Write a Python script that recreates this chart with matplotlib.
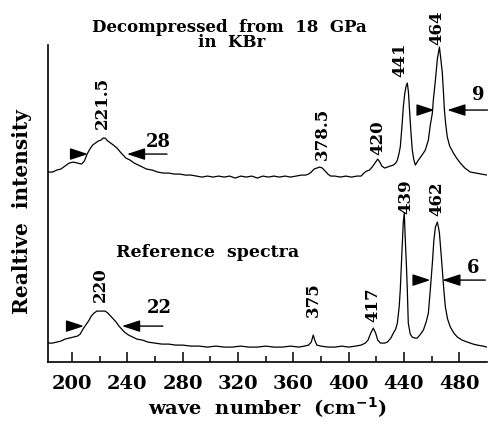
"""
Raman spectra - decompressed from 18 GPa in KBr vs reference.
Values read off the scanned figure.
"""

import matplotlib
matplotlib.use('Agg')
import matplotlib.pyplot as plt

# ── Data ──────────────────────────────────────────────────────
wave_top = [182.6, 186, 189, 192, 195, 198, 201, 204, 207, 209, 211, 213, 215,
            217, 219, 221, 222.5, 224, 226, 228, 230, 232.6, 235, 237, 239, 242,
            245, 248, 251, 254, 258, 262, 266, 270, 274, 278, 282, 286, 290, 294,
            298, 302, 306, 310, 314, 318, 322, 326, 330, 334, 338, 342, 346, 350,
            354, 358, 362, 366, 369, 371, 373, 375, 377, 379, 381, 383, 385, 387,
            390, 394, 398, 402, 406, 409, 411, 413, 415, 417, 419, 421, 422.5,
            424, 426, 428, 430, 432.3, 434, 435.2, 436.3, 437.3, 438.5, 439.5,
            440.5, 441.5, 442.4, 443.2, 444, 445, 446, 447, 448.2, 450.4, 452,
            454, 455.4, 457.6, 459, 460.5, 461.2, 462.7, 464.1, 465.6, 466.7,
            467.7, 468.5, 469.2, 470.2, 471.3, 473, 475.7, 478, 480.7, 484, 488,
            492, 496, 500]
int_top = [190, 190, 192, 193, 196, 199, 200, 199, 198, 201, 208, 213, 217,
           219, 221, 222, 224, 224, 221, 219, 217, 214, 210, 207, 204, 202,
           199, 197, 195, 193, 192, 190, 189, 189, 188, 188, 187, 187, 186, 185,
           186, 185, 186, 185, 186, 184, 186, 185, 186, 184, 186, 185, 186, 185,
           186, 185, 186, 187, 187, 188, 190, 193, 194, 195, 194, 191, 188, 186,
           186, 185, 186, 185, 186, 186, 189, 191, 192, 195, 199, 203, 200,
           196, 194, 195, 196, 197, 199, 202, 208, 215, 235, 255,
           268, 276, 279, 270, 252, 230, 212, 203, 197, 202, 205,
           209, 212, 222, 237, 249, 262, 282, 303, 315, 302,
           289, 270, 252, 237, 225, 216, 209, 204, 199, 194, 190,
           189, 188, 187]

wave_ref = [182.6, 186, 189, 192, 195, 198, 201, 204, 206, 208, 210, 212, 214,
            216, 218, 220, 222, 224, 226, 228, 230, 232, 234, 236, 238, 241, 244,
            247, 251, 255, 260, 265, 270, 275, 280, 286, 292, 298, 304, 310, 316,
            322, 328, 334, 340, 346, 352, 358, 364, 368, 371, 373, 374.4, 375.5,
            377, 380, 385, 390, 395, 400, 405, 409, 412, 414, 416, 417.8, 419.5,
            421, 423, 426, 428, 430.5, 432.3, 434, 435.2, 436.5, 437.3, 438.5,
            439.5, 440.2, 441, 441.8, 442.4, 443.1, 444.5, 446, 448, 449.6, 452,
            454, 456, 457.6, 459, 460.5, 461.6, 462.7, 464.1, 465, 465.6, 466.7,
            467.7, 468.8, 469.9, 471.5, 473.5, 476, 478.6, 482, 485.8, 490, 493,
            497, 500]
int_ref = [19, 19, 20, 21, 23, 24, 25, 26, 28, 33, 37, 41, 46,
           49, 51, 51, 51, 51, 49, 46, 43, 40, 36, 33, 30, 27, 25,
           23, 22, 20, 19, 18, 18, 17, 17, 16, 16, 15, 16, 15, 15,
           16, 15, 15, 16, 15, 15, 16, 15, 16, 17, 20, 27, 22,
           17, 16, 15, 15, 16, 15, 16, 17, 19, 22, 29, 34, 29,
           22, 19, 19, 20, 24, 29, 33, 39, 55, 72, 110,
           140, 149, 120, 95, 72, 39, 28, 25, 24, 24, 28,
           32, 40, 49, 72, 99, 122, 135, 140, 134, 129, 110,
           92, 72, 55, 43, 35, 29, 25, 22, 20, 18, 17,
           16, 15]

# peak labels: (text, x, y)
peaks_top = [('221.5', 221.7, 259), ('378.5', 380.9, 228), ('420', 421.4, 224),
             ('441', 437.3, 302), ('464', 464.1, 334)]
peaks_ref = [('220', 220.3, 77), ('375', 374.4, 62), ('417', 417.8, 57),
             ('439', 441.0, 165), ('462', 464.1, 163)]

# FWHM markers: (label, label_x, label_y, left_tip, right_tip, right_tail, y)
fwhm_top = [('28', 262.2, 220, 210.1, 239.8, 268.7, 208),
            ('9', 493.8, 267, 460.5, 471.3, 500.3, 252)]
fwhm_ref = [('22', 263.0, 54, 207.2, 236.2, 265.8, 36),
            ('6', 490.2, 94, 457.6, 467.7, 498.8, 82)]

# ── Style ─────────────────────────────────────────────────────
plt.rcParams.update({
    'font.family': 'DejaVu Serif',
    'font.weight': 'bold',
    'axes.linewidth': 1.2,
})

fig = plt.figure(figsize=(4.88, 4.25), dpi=100)
ax = fig.add_axes([0.098, 0.148, 0.900, 0.746])

ax.plot(wave_top, int_top, color='black', lw=0.9)
ax.plot(wave_ref, int_ref, color='black', lw=0.9)

ax.set_xlim(182.6, 500)
ax.set_ylim(0, 317)

ax.spines['top'].set_visible(False)
ax.spines['right'].set_visible(False)
ax.set_yticks([])
ax.set_xticks(range(200, 481, 40))
ax.set_xticks(range(220, 500, 40), minor=True)
ax.tick_params(axis='x', which='major', direction='in', length=7, width=1.1,
               pad=9, labelsize=14)
ax.tick_params(axis='x', which='minor', direction='in', length=4, width=1.1)

# ── Peak labels ───────────────────────────────────────────────
for txt, x, y in peaks_top + peaks_ref:
    ax.text(x, y, txt, rotation=90, ha='center', va='center',
            fontsize=12, fontweight='bold')

# ── FWHM arrows ───────────────────────────────────────────────
head = 'simple,head_length=1.1,head_width=0.72,tail_width=0.01'
for lab, lx, ly, ltip, rtip, rtail, y in fwhm_top + fwhm_ref:
    ax.annotate('', xy=(ltip, y), xytext=(ltip - 0.5, y),
                arrowprops=dict(arrowstyle=head, color='black',
                                shrinkA=0, shrinkB=0))
    ax.annotate('', xy=(rtip, y), xytext=(rtail, y),
                arrowprops=dict(arrowstyle='-|>,head_length=1.1,head_width=0.36',
                                color='black', lw=1.0, shrinkA=0, shrinkB=0))
    ax.text(lx, ly, lab, ha='center', va='center', fontsize=13,
            fontweight='bold')

# ── Text ──────────────────────────────────────────────────────
ax.text(298.4, 110, 'Reference  spectra', ha='center', va='center',
        fontsize=12.5, fontweight='bold')
fig.text(0.471, 0.936, 'Decompressed  from  18  GPa', ha='center',
         va='center', fontsize=12, fontweight='bold')
fig.text(0.475, 0.899, 'in  KBr', ha='center', va='center', fontsize=12,
         fontweight='bold')
fig.text(0.045, 0.501, 'Realtive  intensity', rotation=90, ha='center',
         va='center', fontsize=14.5, fontweight='bold')
ax.set_xlabel('wave  number  (cm$^{\\mathbf{-1}}$)', fontsize=14,
              fontweight='bold', labelpad=2)

fig.savefig('out.png', dpi=100, facecolor='white')
